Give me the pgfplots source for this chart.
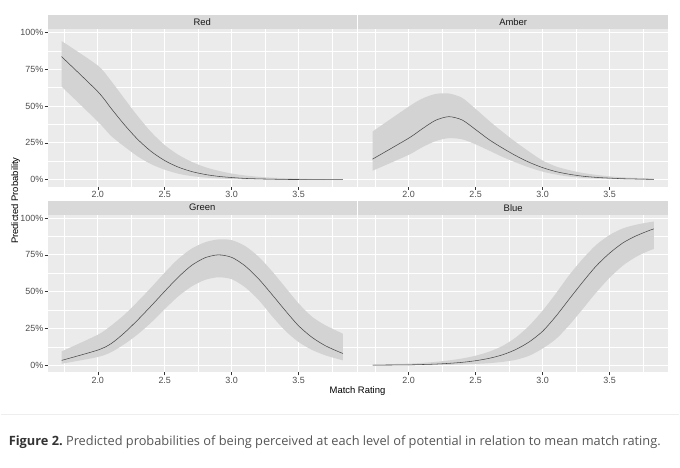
\documentclass[border=0pt]{standalone}
\usepackage{pgfplots}
\pgfplotsset{compat=1.18}
\usepackage{pgfplotstable}
\usepgfplotslibrary{fillbetween}
\usepackage{fontspec}
\setmainfont{Liberation Sans}
\newfontfamily\capfont{Open Sans}
\definecolor{panelbg}{HTML}{EBEBEB}
\definecolor{stripc}{HTML}{D9D9D9}
\definecolor{ticklab}{HTML}{4D4D4D}
\definecolor{tickc}{HTML}{333333}
\definecolor{ribbonc}{HTML}{D3D3D3}
\definecolor{linec}{HTML}{4A4A4A}
\definecolor{capc}{HTML}{555555}
\definecolor{capb}{HTML}{333333}
\definecolor{rulec}{HTML}{EEEEEE}

\pgfplotstableread{
x lo fit hi
1.73 0.632 0.835 0.941
2.00 0.395 0.598 0.775
2.10 0.297 0.484 0.670
2.20 0.224 0.372 0.549
2.30 0.157 0.272 0.430
2.40 0.105 0.191 0.322
2.50 0.068 0.130 0.235
2.60 0.041 0.086 0.170
2.70 0.025 0.056 0.122
2.80 0.015 0.036 0.086
2.90 0.009 0.023 0.061
3.00 0.005 0.015 0.042
3.10 0.003 0.009 0.029
3.20 0.002 0.006 0.020
3.30 0.001 0.004 0.014
3.40 0.001 0.002 0.010
3.50 0.000 0.0015 0.007
3.60 0.000 0.001 0.005
3.70 0.000 0.0006 0.0033
3.80 0.000 0.0004 0.0023
3.83 0.000 0.0003 0.0021
}\redtab

\pgfplotstableread{
x lo fit hi
1.73 0.061 0.140 0.327
2.00 0.169 0.282 0.496
2.10 0.220 0.345 0.550
2.20 0.262 0.403 0.582
2.30 0.282 0.428 0.585
2.40 0.274 0.405 0.555
2.50 0.240 0.340 0.480
2.60 0.198 0.272 0.400
2.70 0.155 0.215 0.325
2.80 0.117 0.163 0.255
2.90 0.083 0.118 0.190
3.00 0.055 0.082 0.130
3.10 0.035 0.055 0.090
3.20 0.021 0.037 0.065
3.30 0.013 0.024 0.046
3.40 0.008 0.016 0.033
3.50 0.005 0.011 0.023
3.60 0.003 0.007 0.016
3.70 0.002 0.005 0.012
3.80 0.001 0.003 0.009
3.83 0.001 0.003 0.008
}\ambertab

\pgfplotstableread{
x lo fit hi
1.73 0.011 0.034 0.095
2.00 0.057 0.104 0.208
2.10 0.090 0.148 0.270
2.20 0.145 0.222 0.345
2.30 0.212 0.310 0.435
2.40 0.292 0.405 0.530
2.50 0.382 0.503 0.630
2.60 0.468 0.598 0.722
2.70 0.535 0.678 0.792
2.80 0.580 0.730 0.835
2.90 0.598 0.750 0.855
3.00 0.585 0.733 0.850
3.10 0.530 0.675 0.810
3.20 0.445 0.588 0.738
3.30 0.335 0.482 0.640
3.40 0.235 0.372 0.530
3.50 0.158 0.268 0.420
3.60 0.105 0.190 0.330
3.70 0.068 0.133 0.272
3.80 0.042 0.092 0.228
3.83 0.034 0.081 0.215
}\greentab

\pgfplotstableread{
x lo fit hi
1.73 0.0005 0.002 0.006
2.00 0.001 0.004 0.012
2.10 0.002 0.006 0.017
2.20 0.003 0.009 0.024
2.30 0.004 0.014 0.034
2.40 0.006 0.021 0.047
2.50 0.010 0.032 0.066
2.60 0.015 0.048 0.093
2.70 0.024 0.072 0.132
2.80 0.038 0.108 0.190
2.90 0.066 0.160 0.270
3.00 0.115 0.232 0.372
3.10 0.180 0.335 0.490
3.20 0.275 0.452 0.615
3.30 0.384 0.567 0.724
3.40 0.495 0.675 0.818
3.50 0.595 0.762 0.885
3.60 0.678 0.832 0.930
3.70 0.738 0.880 0.955
3.80 0.780 0.917 0.972
3.83 0.790 0.926 0.976
}\bluetab

\pgfplotsset{
  facet/.style={
    scale only axis, width=310bp, height=158bp,
    xmin=1.625, xmax=3.935, ymin=-0.047, ymax=1.023,
    axis background/.style={fill=panelbg},
    axis line style={draw=none},
    grid=both,
    major grid style={white, line width=0.9bp},
    minor grid style={white, line width=0.45bp},
    xtick={2,2.5,3,3.5}, xticklabels={2.0,2.5,3.0,3.5},
    minor xtick={1.75,2.25,2.75,3.25,3.75},
    ytick={0,0.25,0.5,0.75,1},
    minor ytick={0.125,0.375,0.625,0.875},
    tick align=outside, major tick length=3bp, minor tick length=0pt,
    tick style={color=tickc, line width=0.5bp},
    xtick pos=bottom, ytick pos=left,
    ticklabel style={font=\fontsize{9}{10}\selectfont, text=ticklab},
    xticklabel style={inner sep=1.5bp},
    yticklabel style={inner sep=1bp},
    /pgf/number format/assume math mode=true,
    every axis title shift=0pt,
    title style={at={(0.5,1)}, anchor=south, yshift=0pt, fill=stripc,
      minimum width=310bp, minimum height=14bp, inner sep=0pt, outer sep=0pt,
      text=black!90, font=\fontsize{9.5}{10}\selectfont},
  },
  leftcol/.style={yticklabels={0\%,25\%,50\%,75\%,100\%}},
  rightcol/.style={yticklabels={}, ytick style={draw=none}},
  rib/.style={fill=ribbonc, draw=none},
  bnd/.style={draw=none, no markers, smooth, tension=0.45},
  fitline/.style={color=linec, line width=0.55bp, no markers, smooth, tension=0.45},
}

\begin{document}
\begin{tikzpicture}
\path (0,0) rectangle (680bp,-468bp);

\begin{axis}[facet, leftcol, title={Red}, at={(47bp,-187bp)}, anchor=south west]
\addplot[name path=hi, bnd] table[x=x,y=hi]{\redtab};
\addplot[name path=lo, bnd] table[x=x,y=lo]{\redtab};
\addplot[rib] fill between[of=hi and lo];
\addplot[fitline] table[x=x,y=fit]{\redtab};
\end{axis}

\begin{axis}[facet, rightcol, title={Amber}, at={(358.5bp,-187bp)}, anchor=south west]
\addplot[name path=hi, bnd] table[x=x,y=hi]{\ambertab};
\addplot[name path=lo, bnd] table[x=x,y=lo]{\ambertab};
\addplot[rib] fill between[of=hi and lo];
\addplot[fitline] table[x=x,y=fit]{\ambertab};
\end{axis}

\begin{axis}[facet, leftcol, title={Green}, at={(47bp,-373bp)}, anchor=south west]
\addplot[name path=hi, bnd] table[x=x,y=hi]{\greentab};
\addplot[name path=lo, bnd] table[x=x,y=lo]{\greentab};
\addplot[rib] fill between[of=hi and lo];
\addplot[fitline] table[x=x,y=fit]{\greentab};
\end{axis}

\begin{axis}[facet, rightcol, title={Blue}, at={(358.5bp,-373bp)}, anchor=south west]
\addplot[name path=hi, bnd] table[x=x,y=hi]{\bluetab};
\addplot[name path=lo, bnd] table[x=x,y=lo]{\bluetab};
\addplot[rib] fill between[of=hi and lo];
\addplot[fitline] table[x=x,y=fit]{\bluetab};
\end{axis}

\node[rotate=90, font=\fontsize{9.5}{10}\selectfont, inner sep=0pt] at (15bp,-201bp) {Predicted Probability};
\node[font=\fontsize{9.5}{10}\selectfont, inner sep=0pt] at (357.5bp,-392bp) {Match Rating};

\draw[rulec, line width=1.2bp] (0,-415bp) -- (680bp,-415bp);
\node[anchor=west, inner sep=0pt] at (8bp,-443bp) {\resizebox{653bp}{!}{\capfont\fontsize{11.5}{13}\selectfont\textcolor{capb}{\bfseries Figure 2.}\ \textcolor{capc}{Predicted probabilities of being perceived at each level of potential in relation to mean match rating.}}};
\end{tikzpicture}
\end{document}
